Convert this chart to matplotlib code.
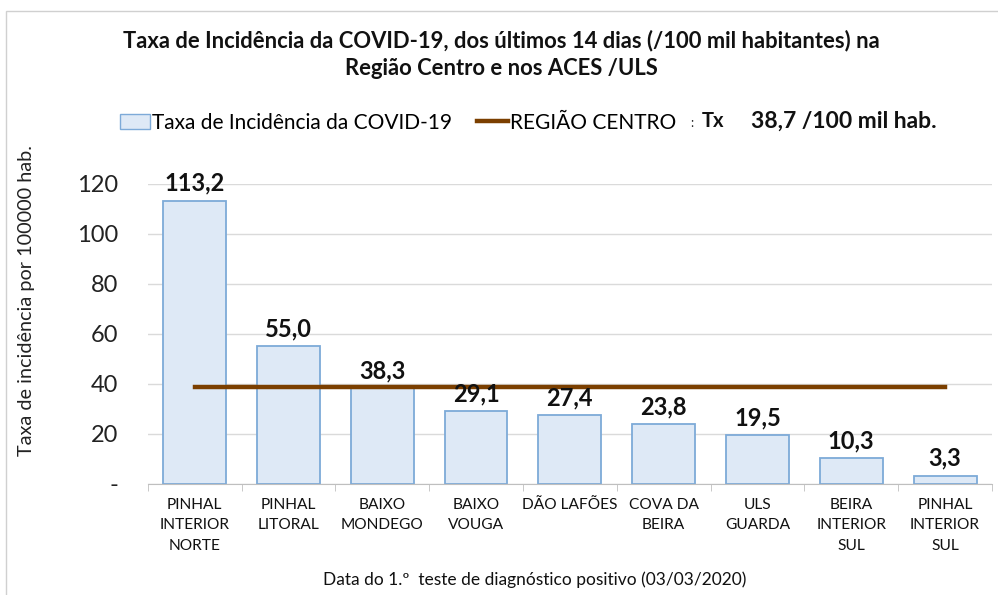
import matplotlib
matplotlib.use("Agg")
import matplotlib.pyplot as plt
from matplotlib.patches import Patch, Rectangle
from matplotlib.lines import Line2D
import numpy as np

categories = ["PINHAL\nINTERIOR\nNORTE", "PINHAL\nLITORAL", "BAIXO\nMONDEGO", "BAIXO\nVOUGA",
              "DÃO LAFÕES", "COVA DA\nBEIRA", "ULS\nGUARDA", "BEIRA\nINTERIOR\nSUL", "PINHAL\nINTERIOR\nSUL"]
values = [113.2, 55.0, 38.3, 29.1, 27.4, 23.8, 19.5, 10.3, 3.3]
regiao_centro = 38.7
yticks = [0, 20, 40, 60, 80, 100, 120]
ytick_labels = ["-", "20", "40", "60", "80", "100", "120"]

plt.rcParams['font.family'] = ['Lato', 'DejaVu Sans']

fig = plt.figure(figsize=(9.98, 5.95), dpi=100)
ax = fig.add_axes([0.148, 0.1866, 0.846, 0.5042])

x = np.arange(len(categories))
ax.bar(x, values, width=0.67, color="#DEE9F6", edgecolor="#7DAAD8", linewidth=1.3, zorder=2)
ax.plot([x[0], x[-1]], [regiao_centro] * 2, color="#7B3F00", linewidth=3.2, zorder=3)

for xi, v in zip(x, values):
    ax.text(xi, v + 2.5, f"{v:.1f}".replace(".", ","), ha="center", va="bottom",
            fontsize=17, fontweight="bold", color="#111111", zorder=4, clip_on=False)

ax.set_xlim(-0.5, len(categories) - 0.5)
ax.set_ylim(0, 120)
ax.set_yticks(yticks)
ax.set_yticklabels(ytick_labels, fontsize=17, color="#222222")
ax.set_xticks(x)
ax.set_xticklabels(categories, fontsize=11.2, color="#111111", linespacing=1.6)
ax.tick_params(axis="x", length=0, pad=10)
ax.tick_params(axis="y", length=0, pad=21)
ax.set_xticks(np.arange(-0.5, len(categories), 1.0), minor=True)
ax.tick_params(axis="x", which="minor", length=5, color="#BFBFBF", direction="out")
ax.grid(axis="y", color="#DADADA", linewidth=1.0, zorder=0)
for s in ["top", "right", "left"]:
    ax.spines[s].set_visible(False)
ax.spines["bottom"].set_color("#BFBFBF")
ax.set_ylabel("Taxa de incidência por 100000 hab.", fontsize=14.3, color="#222222")
ax.yaxis.set_label_coords(-0.133, 0.61)

fig.text(0.502, 0.908, "Taxa de Incidência da COVID-19, dos últimos 14 dias (/100 mil habitantes) na\nRegião Centro e nos ACES /ULS",
         ha="center", va="center", fontsize=15.8, fontweight="bold", color="#111111", linespacing=1.4)

handles = [Patch(facecolor="#DEE9F6", edgecolor="#7DAAD8"),
           Line2D([0], [0], color="#7B3F00", linewidth=3.2)]
fig.legend(handles, ["Taxa de Incidência da COVID-19", "REGIÃO CENTRO"], ncol=2, frameon=False,
           loc="center left", bbox_to_anchor=(0.112, 0.794), fontsize=15, handlelength=1.45,
           handletextpad=0.1, columnspacing=1.2, borderaxespad=0)
fig.text(0.692, 0.794, ":", ha="left", va="center", fontsize=9, color="#222222")
fig.text(0.703, 0.796, "Tx", ha="left", va="center", fontsize=14.5, fontweight="bold", color="#111111")
fig.text(0.753, 0.796, f"{regiao_centro:.1f}".replace(".", ",") + " /100 mil hab.", ha="left", va="center",
         fontsize=16.5, fontweight="bold", color="#111111")

fig.text(0.536, 0.026, "Data do 1.º  teste de diagnóstico positivo (03/03/2020)", ha="center", va="center",
         fontsize=12.5, color="#111111")

fig.patches.append(Rectangle((0.006, -0.01), 1.1, 0.9915, transform=fig.transFigure, fill=False,
                             edgecolor="#D0D0D0", linewidth=1.0))

fig.savefig("out.png", dpi=100)
